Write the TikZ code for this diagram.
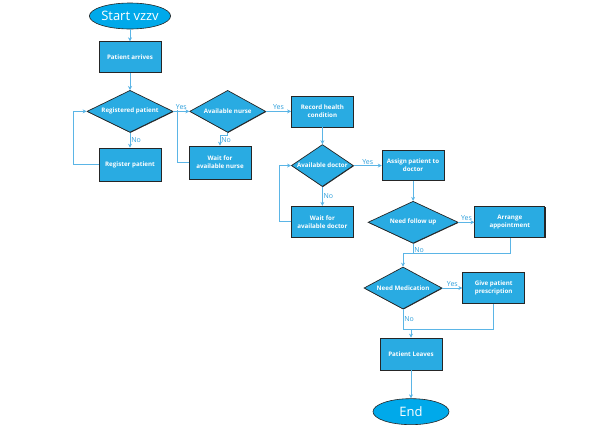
\documentclass[tikz,border=0pt]{standalone}
\usepackage{fontspec}
\setmainfont{Open Sans}
\usetikzlibrary{shapes.geometric, positioning, arrows.meta, shadows}
\definecolor{boxblue}{HTML}{29ABE2}
\definecolor{ovalblue}{HTML}{00A9EA}
\definecolor{lineblue}{HTML}{5BB5E6}
\definecolor{labelblue}{HTML}{2E9FDB}
\tikzset{
  startstop/.style={ellipse, minimum width=76pt, minimum height=26pt, inner sep=0pt, draw=black!85, line width=0.6pt, fill=ovalblue, text=white, font=\fontsize{13}{15}\selectfont},
  process/.style={rectangle, minimum width=62pt, minimum height=31pt, inner sep=1pt, align=center, draw=black!85, line width=0.7pt, fill=boxblue, text=white, font=\fontsize{6.2}{8}\selectfont\bfseries, drop shadow={shadow xshift=0.7pt, shadow yshift=-0.7pt, fill=black!85, opacity=1}},
  decision/.style={diamond, minimum width=76pt, minimum height=42pt, inner sep=0pt, draw=black!85, line width=0.7pt, fill=boxblue, text=white, font=\fontsize{6.2}{8}\selectfont\bfseries, drop shadow={shadow xshift=0.5pt, shadow yshift=-0.6pt, fill=black!85, opacity=1}, execute at begin node={\hbox to 0pt\bgroup\hss}, execute at end node={\hss\egroup}},
  arrow/.style={lineblue, line width=0.6pt, -{Stealth[length=4pt, width=4pt]}},
  link/.style={lineblue, line width=0.6pt},
  yesno/.style={labelblue, font=\fontsize{7}{8}\selectfont, inner sep=1pt}
}

\begin{document}
\begin{tikzpicture}[x=1pt, y=-1pt]
    \useasboundingbox (0,0) rectangle (596,429);

    % Registration and nurse
    \node (start) [startstop] at (130,16) {Start vzzv};
    \node (arrives) [process, below=12pt of start] {Patient arrives};
    \node (regpat) [decision, minimum width=86pt, below=17pt of arrives] {Registered patient};
    \node (register) [process, minimum height=33pt, below=15pt of regpat] {Register patient};
    \node (nurse) [decision, right=16pt of regpat] {Available nurse};
    \node (waitnurse) [process, minimum height=33pt] at (220,162.5) {Wait for\\available nurse};
    \coordinate (nursejoin) at (177,110);

    % Doctor
    \node (record) [process, right=25pt of nurse] {Record health\\condition};
    \node (doctor) [decision, minimum width=62pt, below=17pt of record] {Available doctor};
    \node (waitdoctor) [process, below=19pt of doctor] {Wait for\\available doctor};
    \node (assign) [process, minimum height=30pt, right=28pt of doctor] {Assign patient to\\doctor};

    % Follow up and medication
    \node (followup) [decision, minimum width=90pt, below=20pt of assign] {Need follow up};
    \node (arrange) [process, minimum width=70pt, right=16pt of followup] {Arrange\\appointment};
    \coordinate (followjoin) at (403,253);
    \node (medication) [decision, minimum width=78pt] at (403,288) {Need Medication};
    \node (prescription) [process, right=20pt of medication] {Give patient\\prescription};
    \coordinate (medjoin) at (411,329);
    \node (leaves) [process, minimum height=32pt] at (411,354) {Patient Leaves};
    \node (stop) [startstop, below=28pt of leaves] {End};

    \draw [arrow] (start) -- (arrives);
    \draw [arrow] (arrives) -- (regpat);
    \draw [arrow] (regpat) -- node[yesno, right]{No} (register);
    \draw [arrow] (register.west) -- ++(-25,0) |- (regpat.west);
    \draw [arrow] (regpat) -- node[yesno, above]{Yes} (nurse);
    \draw [arrow] (nurse.south) -- ++(0,3) -| node[yesno, right, pos=0.7]{No} (waitnurse.north);
    \draw [link] (waitnurse.west) -| (nursejoin);
    \draw [arrow] (nurse) -- node[yesno, above]{Yes} (record);
    \draw [arrow] (record) -- (doctor);
    \draw [arrow] (doctor) -- node[yesno, above]{Yes} (assign);
    \draw [arrow] (doctor) -- node[yesno, right]{No} (waitdoctor);
    \draw [arrow] (waitdoctor.west) -- ++(-12,0) |- (doctor.west);
    \draw [arrow] (assign) -- (followup);
    \draw [arrow] (followup) -- node[yesno, above]{Yes} (arrange);
    \draw [link] (followup.south) -- node[yesno, right, pos=0.7]{No} (followup.south |- followjoin);
    \draw [arrow] (arrange.south) |- (followjoin) -- (medication.north);
    \draw [arrow] (medication) -- node[yesno, above]{Yes} (prescription);
    \draw [link] (medication.south) |- node[yesno, right, pos=0.25]{No} (prescription.south |- medjoin) -- (prescription.south);
    \draw [arrow] (medjoin) -- (leaves);
    \draw [arrow] (leaves) -- (stop);

\end{tikzpicture}
\end{document}
